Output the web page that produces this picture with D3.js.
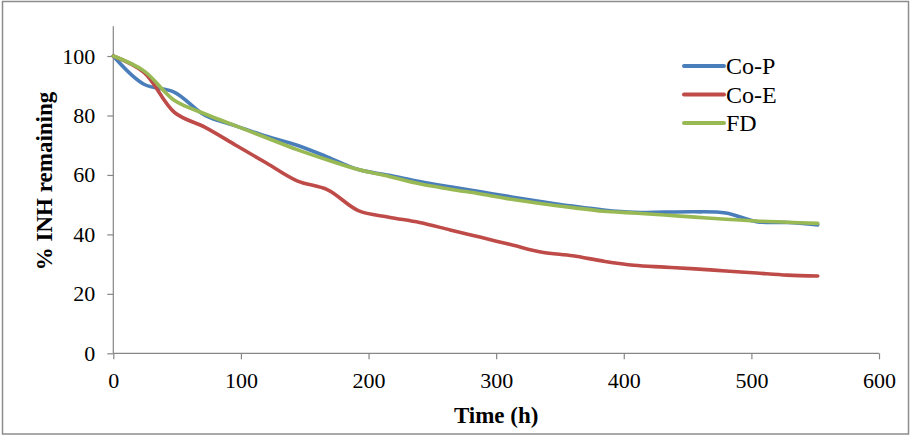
<!DOCTYPE html>
<html>
<head>
<meta charset="utf-8">
<script src="https://cdn.jsdelivr.net/npm/d3@7"></script>
<style>
  body { margin: 0; background: #fff; }
  text { font-family: "Liberation Serif", "Times New Roman", serif; fill: #000; }
</style>
</head>
<body>
<div id="chart"></div>
<script>
// sampling times (h)
var hours = [0, 24, 48, 72, 96, 120, 144, 168, 192, 216, 240, 264, 288, 312,
             336, 360, 384, 408, 432, 456, 480, 504, 528, 552];

var coP = [100, 90.5, 87.8, 80, 76.5, 73, 70, 66, 61.8, 59.9, 57.8, 56, 54.3, 52.6,
           51, 49.5, 48.2, 47.4, 47.5, 47.6, 47.2, 44.3, 44, 43.2];
var coE = [100, 94.5, 81, 76, 70, 64, 58, 55, 48, 45.8, 44, 41.5, 39, 36.5,
           34, 32.8, 31, 29.6, 29, 28.4, 27.7, 27, 26.3, 26];
var fd  = [100, 95, 85, 80.5, 76.5, 72.5, 68.5, 65, 61.8, 59.5, 57, 55.2, 53.6, 51.8,
           50.3, 49, 47.8, 47.2, 46.5, 45.8, 45.1, 44.5, 44.1, 43.7];

var seriesNames = ["Co-P", "Co-E", "FD"];
var seriesValues = [coP, coE, fd];
var seriesColors = ["#4A7EBB", "#BE4B48", "#98B954"];

var xTicks = [0, 100, 200, 300, 400, 500, 600];
var yTicks = [0, 20, 40, 60, 80, 100];

var svgWidth = 912;
var svgHeight = 436;

var margin = { top: 26.3, right: 33, bottom: 82.7, left: 113.3 };
var width = svgWidth - margin.left - margin.right;
var height = svgHeight - margin.top - margin.bottom;

var svg = d3.select("#chart")
    .append("svg")
    .attr("width", svgWidth)
    .attr("height", svgHeight);

// outer frame
svg.append("rect")
    .attr("x", 2.5)
    .attr("y", 1.5)
    .attr("width", 906)
    .attr("height", 432.5)
    .attr("fill", "none")
    .attr("stroke", "#8c8c8c")
    .attr("stroke-width", 1.5);

var chartGroup = svg.append("g")
    .attr("transform", `translate(${margin.left}, ${margin.top})`);

var xScale = d3.scaleLinear().domain([0, 600]).range([0, width]);
var yScale = d3.scaleLinear().domain([0, 110]).range([height, 0]);

var bottomAxis = d3.axisBottom(xScale).tickValues(xTicks).tickSize(6).tickPadding(13);
var leftAxis = d3.axisLeft(yScale).tickValues(yTicks).tickSize(6).tickPadding(12);

var xAxis = chartGroup.append("g")
    .attr("transform", `translate(0, ${height})`)
    .call(bottomAxis);

var yAxis = chartGroup.append("g")
    .call(leftAxis);

[xAxis, yAxis].forEach(function (ax) {
    ax.select(".domain").attr("stroke", "#868686").attr("stroke-width", 1.2);
    ax.selectAll(".tick line").attr("stroke", "#868686").attr("stroke-width", 1.2);
    ax.selectAll(".tick text")
        .attr("fill", "#000")
        .style("font-family", "'Liberation Serif', 'Times New Roman', serif")
        .style("font-size", "22px");
});
yAxis.select(".domain").attr("d", `M0,${height}V0`);
xAxis.select(".domain").attr("d", `M0,0H${width}`);

// lines
var line = d3.line()
    .x(function (d) { return xScale(d[0]); })
    .y(function (d) { return yScale(d[1]); })
    .curve(d3.curveCatmullRom.alpha(0.5));

seriesValues.forEach(function (vals, i) {
    var pts = hours.map(function (h, j) { return [h, vals[j]]; });
    chartGroup.append("path")
        .datum(pts)
        .attr("d", line)
        .attr("fill", "none")
        .attr("stroke", seriesColors[i])
        .attr("stroke-width", 3.6)
        .attr("stroke-linecap", "round")
        .attr("stroke-linejoin", "round");
});

// axis titles
svg.append("text")
    .attr("x", margin.left + xScale(300))
    .attr("y", 423)
    .attr("text-anchor", "middle")
    .style("font-size", "23px")
    .style("font-weight", "bold")
    .text("Time (h)");

svg.append("text")
    .attr("transform", "translate(52, 181) rotate(-90)")
    .attr("text-anchor", "middle")
    .style("font-size", "23px")
    .style("font-weight", "bold")
    .text("% INH remaining");

// legend
var legend = svg.append("g");
seriesNames.forEach(function (name, i) {
    var y = 66 + i * 28.5;
    legend.append("line")
        .attr("x1", 684).attr("x2", 724)
        .attr("y1", y).attr("y2", y)
        .attr("stroke", seriesColors[i])
        .attr("stroke-width", 4)
        .attr("stroke-linecap", "round");
    legend.append("text")
        .attr("x", 726)
        .attr("y", y)
        .attr("dy", "0.35em")
        .style("font-size", "24px")
        .text(name);
});
</script>
</body>
</html>
